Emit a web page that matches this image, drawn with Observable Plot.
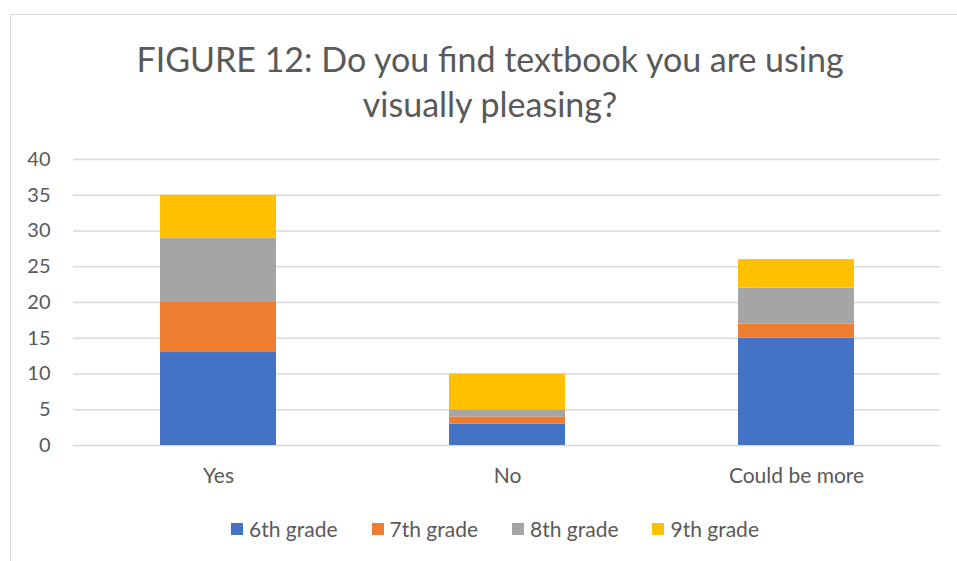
<!DOCTYPE html>
<html><head><meta charset="utf-8">
<script src="https://cdn.jsdelivr.net/npm/d3@7"></script>
<script src="https://cdn.jsdelivr.net/npm/@observablehq/plot@0.6"></script>
<style>
body{margin:0;background:#fff;font-family:Lato,"Open Sans",sans-serif;}
#wrap{position:relative;width:957px;height:561px;overflow:hidden;}
#frame{position:absolute;left:10px;top:14px;width:1000px;height:600px;border-left:1px solid #d9d9d9;border-top:1px solid #d9d9d9;}
#title{position:absolute;left:0;top:36px;width:980px;text-align:center;font-size:34px;line-height:45px;color:#595959;}
#chart{position:absolute;left:0;top:140px;}
#legend{position:absolute;left:0;top:516px;width:990px;display:flex;justify-content:center;gap:34px;font-size:21px;color:#595959;}
#legend span.item{display:flex;align-items:center;}
#legend span.sw{display:inline-block;width:12px;height:12px;margin-right:6px;}
</style></head>
<body><div id="wrap"><div id="frame"></div>
<div id="title">FIGURE 12: Do you find textbook you are using<br>visually pleasing?</div>
<div id="chart"></div><div id="legend"></div></div>
<script>
const categories = ["Yes", "No", "Could be more"];
const series = ["6th grade", "7th grade", "8th grade", "9th grade"];
const colors = ["#4472c4", "#ed7d31", "#a5a5a5", "#ffc000"];
const grade6 = [13, 3, 15];
const grade7 = [7, 1, 2];
const grade8 = [9, 1, 5];
const grade9 = [6, 5, 4];
const yTicks = [0, 5, 10, 15, 20, 25, 30, 35, 40];

const values = [grade6, grade7, grade8, grade9];
const data = [];
series.forEach((s, i) => categories.forEach((c, j) => data.push({category: c, grade: s, value: values[i][j]})));

const plot = Plot.plot({
  width: 957, height: 360,
  marginLeft: 73, marginRight: 17, marginTop: 19, marginBottom: 55,
  style: {fontFamily: "Lato, 'Open Sans', sans-serif", fontSize: "20px", color: "#595959", background: "transparent"},
  x: {domain: categories, paddingInner: 0.6, paddingOuter: 0.3, label: null, tickSize: 0, tickPadding: 23},
  y: {domain: [0, 40], ticks: yTicks, label: null, tickSize: 0, tickPadding: 23},
  color: {domain: series, range: colors},
  marks: [
    Plot.gridY(yTicks, {stroke: "#d9d9d9", strokeOpacity: 1, strokeWidth: 1.3}),
    Plot.barY(data, {x: "category", y: "value", fill: "grade", order: series}),
    Plot.axisX({tickSize: 0, tickPadding: 23, fontSize: 21, label: null}),
    Plot.axisY(yTicks, {tickSize: 0, tickPadding: 23, fontSize: 20, label: null})
  ]
});
document.getElementById("chart").appendChild(plot);

const lg = document.getElementById("legend");
series.forEach((s, i) => {
  const it = document.createElement("span"); it.className = "item";
  const sw = document.createElement("span"); sw.className = "sw"; sw.style.background = colors[i];
  it.appendChild(sw); it.appendChild(document.createTextNode(s));
  lg.appendChild(it);
});
</script></body></html>
